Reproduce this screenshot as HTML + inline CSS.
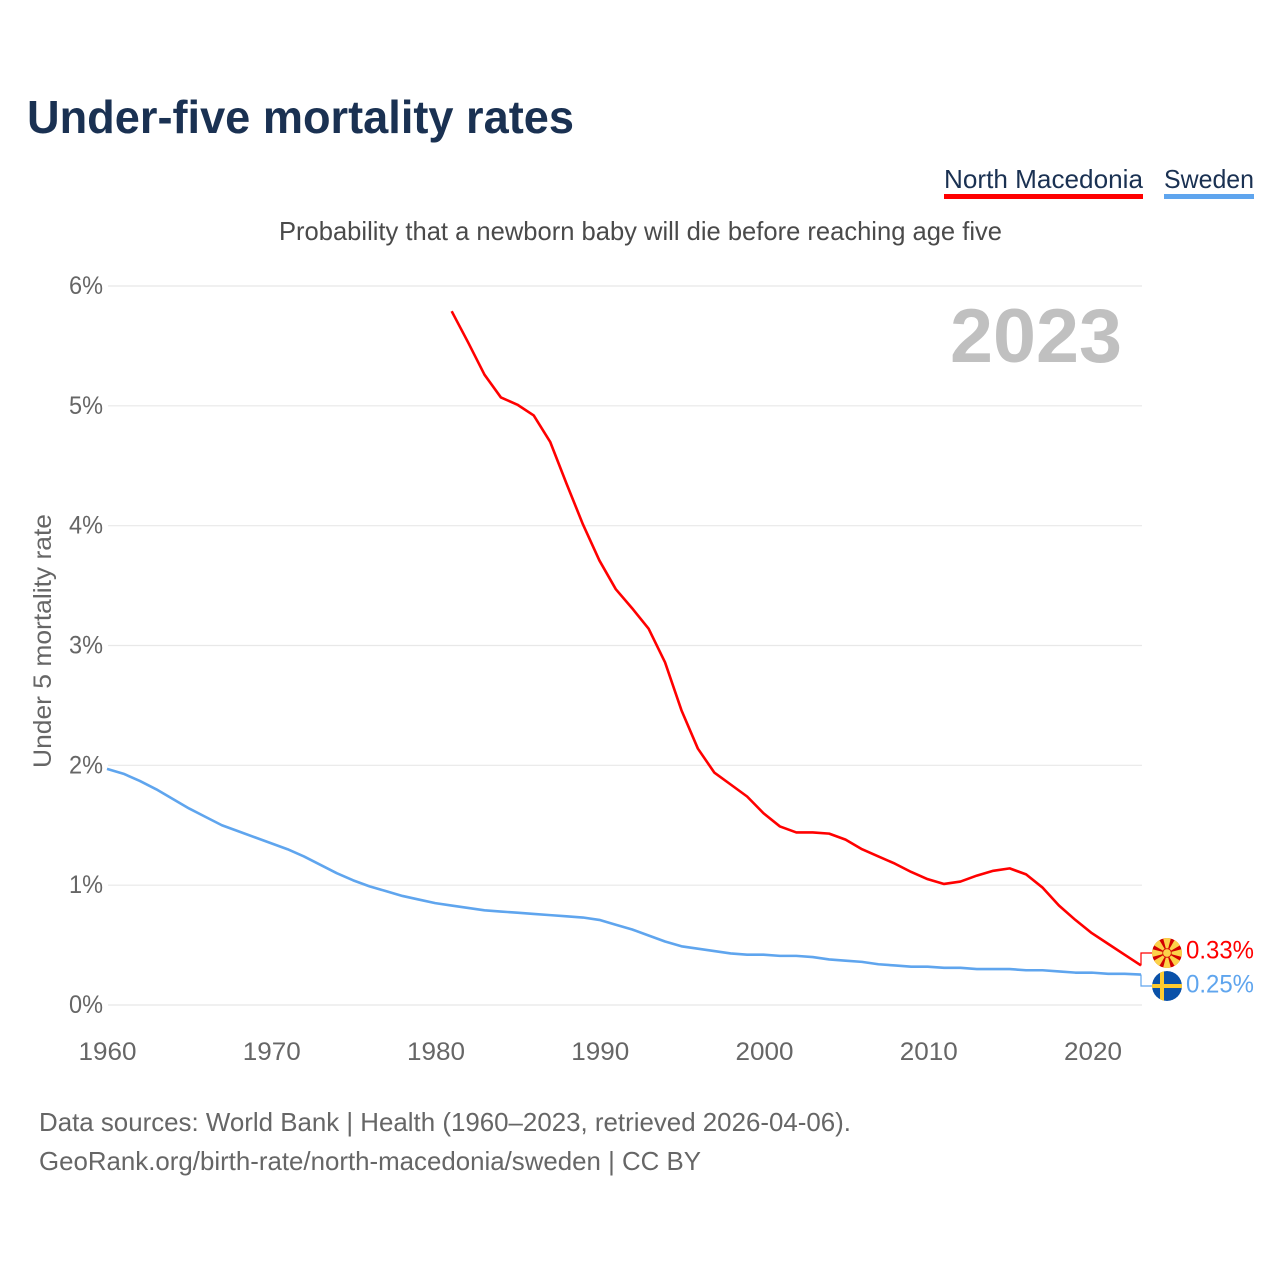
<!DOCTYPE html>
<html lang="en">
<head>
<meta charset="utf-8">
<title>Under-five mortality rates</title>
<style>
html,body{margin:0;padding:0;background:#fff}
svg{display:block;font-family:"Liberation Sans",sans-serif}
</style>
</head>
<body>
<svg id="chart" xmlns="http://www.w3.org/2000/svg" width="1280" height="1280" viewBox="0 0 1280 1280">
  <defs>
    <clipPath id="flag-clip"><circle cx="0" cy="0" r="15"/></clipPath>
  </defs>
  <rect x="0" y="0" width="1280" height="1280" fill="#fff"/>
  <text x="27" y="133" font-size="46" font-weight="700" fill="#1a3152" textLength="547" lengthAdjust="spacingAndGlyphs">Under-five mortality rates</text>

  <g>
    <text x="944" y="188" font-size="26" fill="#1a3152" textLength="199" lengthAdjust="spacingAndGlyphs">North Macedonia</text>
    <rect x="944" y="194" width="199" height="5" fill="#ff0000"/>
  </g>
  <g>
    <text x="1164" y="188" font-size="26" fill="#1a3152" textLength="90" lengthAdjust="spacingAndGlyphs">Sweden</text>
    <rect x="1164" y="194" width="90" height="5" fill="#5fa5ee"/>
  </g>

  <text x="279" y="240" font-size="26" fill="#4a4a4a" textLength="723" lengthAdjust="spacingAndGlyphs">Probability that a newborn baby will die before reaching age five</text>

  <g id="grid"></g>
  <g id="y-ticks"></g>
  <g id="x-ticks"></g>

  <text transform="translate(51 768) rotate(-90)" x="0" y="0" font-size="25" fill="#666" textLength="254" lengthAdjust="spacingAndGlyphs">Under 5 mortality rate</text>

  <text x="950" y="362" font-size="76" font-weight="700" fill="#c0c0c0" textLength="172" lengthAdjust="spacingAndGlyphs">2023</text>

  <polyline id="line-sweden" fill="none" stroke="#5fa5ee" stroke-width="2.6" stroke-linejoin="round"/>
  <polyline id="line-north-macedonia" fill="none" stroke="#ff0000" stroke-width="2.6" stroke-linejoin="round"/>

  <polyline id="connector-north-macedonia" fill="none" stroke="#ff0000" stroke-width="1.2"/>
  <polyline id="connector-sweden" fill="none" stroke="#5fa5ee" stroke-width="1.2"/>

  <g transform="translate(1167 953)">
    <g clip-path="url(#flag-clip)">
      <circle cx="0" cy="0" r="15" fill="#d20000"/>
      <g fill="#fcd24a">
        <polygon points="-4.2,-16 4.2,-16 0,0"/>
        <polygon points="-4.2,-16 4.2,-16 0,0" transform="rotate(45)"/>
        <polygon points="-4.2,-16 4.2,-16 0,0" transform="rotate(90)"/>
        <polygon points="-4.2,-16 4.2,-16 0,0" transform="rotate(135)"/>
        <polygon points="-4.2,-16 4.2,-16 0,0" transform="rotate(180)"/>
        <polygon points="-4.2,-16 4.2,-16 0,0" transform="rotate(225)"/>
        <polygon points="-4.2,-16 4.2,-16 0,0" transform="rotate(270)"/>
        <polygon points="-4.2,-16 4.2,-16 0,0" transform="rotate(315)"/>
      </g>
      <circle cx="0" cy="0" r="4.7" fill="#d20000"/>
      <circle cx="0" cy="0" r="3.9" fill="#fcd24a"/>
    </g>
  </g>
  <g transform="translate(1167 986)">
    <g clip-path="url(#flag-clip)">
      <circle cx="0" cy="0" r="15" fill="#0a51a8"/>
      <rect x="-15" y="-2" width="30" height="4" fill="#fecb2f"/>
      <rect x="-7" y="-15" width="4" height="30" fill="#fecb2f"/>
    </g>
  </g>

  <text id="value-north-macedonia" x="1186" y="958.5" font-size="25" fill="#ff0000" textLength="68" lengthAdjust="spacingAndGlyphs"></text>
  <text id="value-sweden" x="1186" y="992.5" font-size="25" fill="#5fa5ee" textLength="68" lengthAdjust="spacingAndGlyphs"></text>

  <text x="39" y="1131" font-size="26" fill="#666" textLength="812" lengthAdjust="spacingAndGlyphs">Data sources: World Bank | Health (1960–2023, retrieved 2026-04-06).</text>
  <text x="39" y="1170" font-size="26" fill="#666" textLength="662" lengthAdjust="spacingAndGlyphs">GeoRank.org/birth-rate/north-macedonia/sweden | CC BY</text>
</svg>
<script>
const yTicks = [0, 1, 2, 3, 4, 5, 6];
const xTicks = [1960, 1970, 1980, 1990, 2000, 2010, 2020];
const swedenStartYear = 1960;
const swedenValues = [1.97, 1.93, 1.87, 1.80, 1.72, 1.64, 1.57, 1.50, 1.45, 1.40,
  1.35, 1.30, 1.24, 1.17, 1.10, 1.04, 0.99, 0.95, 0.91, 0.88,
  0.85, 0.83, 0.81, 0.79, 0.78, 0.77, 0.76, 0.75, 0.74, 0.73,
  0.71, 0.67, 0.63, 0.58, 0.53, 0.49, 0.47, 0.45, 0.43, 0.42,
  0.42, 0.41, 0.41, 0.40, 0.38, 0.37, 0.36, 0.34, 0.33, 0.32,
  0.32, 0.31, 0.31, 0.30, 0.30, 0.30, 0.29, 0.29, 0.28, 0.27,
  0.27, 0.26, 0.26, 0.254];
const macedoniaStartYear = 1981;
const macedoniaValues = [5.79, 5.53, 5.26, 5.07, 5.01, 4.92, 4.70, 4.35, 4.01,
  3.71, 3.47, 3.31, 3.14, 2.86, 2.46, 2.14, 1.94, 1.84, 1.74,
  1.60, 1.49, 1.44, 1.44, 1.43, 1.38, 1.30, 1.24, 1.18, 1.11,
  1.05, 1.01, 1.03, 1.08, 1.12, 1.14, 1.09, 0.98, 0.83, 0.71,
  0.60, 0.51, 0.42, 0.33];

const SVG_NS = 'http://www.w3.org/2000/svg';
function xScale(year) { return 107 + (year - 1960) * (1034 / 63); }
function yScale(v) { return 1005 - v * (719 / 6); }
function toPoints(startYear, values) {
  return values.map(function (v, i) {
    return xScale(startYear + i).toFixed(2) + ',' + yScale(v).toFixed(2);
  }).join(' ');
}

const gridGroup = document.getElementById('grid');
const yGroup = document.getElementById('y-ticks');
const xGroup = document.getElementById('x-ticks');

yTicks.forEach(function (t) {
  const line = document.createElementNS(SVG_NS, 'line');
  
  
  line.setAttribute('x1', 108);
  line.setAttribute('x2', 1142);
  line.setAttribute('y1', yScale(t));
  line.setAttribute('y2', yScale(t));
  line.setAttribute('stroke', '#e8e8e8');
  line.setAttribute('stroke-width', '1.2');
  gridGroup.appendChild(line);

  const label = document.createElementNS(SVG_NS, 'text');
  
  
  label.setAttribute('x', 69);
  label.setAttribute('y', yScale(t) + 8);
  label.setAttribute('font-size', '25');
  label.setAttribute('fill', '#666');
  label.setAttribute('textLength', '34');
  label.setAttribute('lengthAdjust', 'spacingAndGlyphs');
  label.textContent = t + '%';
  yGroup.appendChild(label);
});

xTicks.forEach(function (t) {
  const label = document.createElementNS(SVG_NS, 'text');
  
  
  label.setAttribute('x', xScale(t) - 28.5 + (t - 1960) * 0.012);
  label.setAttribute('y', 1060);
  label.setAttribute('font-size', '25');
  label.setAttribute('fill', '#666');
  label.setAttribute('textLength', '58');
  label.setAttribute('lengthAdjust', 'spacingAndGlyphs');
  label.textContent = String(t);
  xGroup.appendChild(label);
});

document.getElementById('line-sweden').setAttribute('points', toPoints(swedenStartYear, swedenValues));
document.getElementById('line-north-macedonia').setAttribute('points', toPoints(macedoniaStartYear, macedoniaValues));

const lastSweden = swedenValues[swedenValues.length - 1];
const lastMacedonia = macedoniaValues[macedoniaValues.length - 1];
const endX = xScale(2023);
document.getElementById('connector-north-macedonia').setAttribute('points',
  endX + ',' + yScale(lastMacedonia) + ' ' + endX + ',953 1152,953');
document.getElementById('connector-sweden').setAttribute('points',
  endX + ',' + yScale(lastSweden) + ' ' + endX + ',986 1152,986');
document.getElementById('value-north-macedonia').textContent = lastMacedonia.toFixed(2) + '%';
document.getElementById('value-sweden').textContent = lastSweden.toFixed(2) + '%';
</script>
</body>
</html>
